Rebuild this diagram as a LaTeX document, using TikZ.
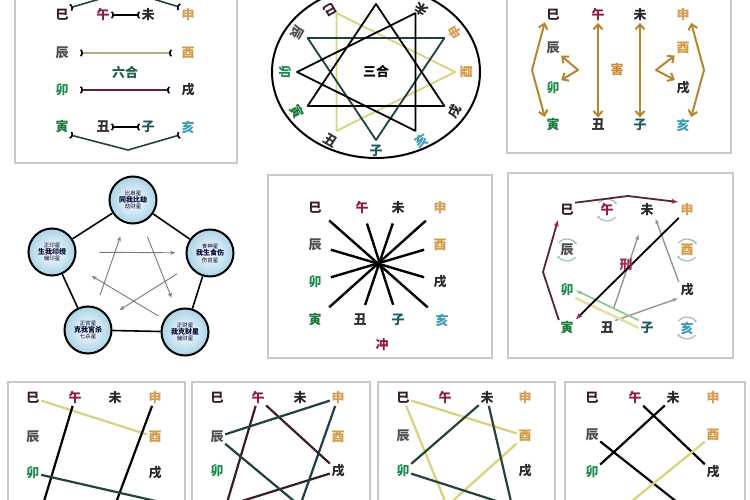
\documentclass[tikz,border=0pt]{standalone}
\usepackage{fontspec}
\usepackage{xcolor}
\usetikzlibrary{arrows.meta,calc}
\newfontfamily\cjk{Noto Sans CJK SC}

\definecolor{cSi}{HTML}{3A1C28}
\definecolor{cWu}{HTML}{8C1D3C}
\definecolor{cWei}{HTML}{2A2A2A}
\definecolor{cShen}{HTML}{D89E57}
\definecolor{cChen}{HTML}{4F4F4F}
\definecolor{cYou}{HTML}{D49A42}
\definecolor{cMao}{HTML}{1B8A4C}
\definecolor{cXu}{HTML}{2A2A2A}
\definecolor{cYin}{HTML}{1B7A3C}
\definecolor{cChou}{HTML}{2F2F2F}
\definecolor{cZi}{HTML}{1E5A5C}
\definecolor{cHai}{HTML}{3C9DB2}
\definecolor{boxgray}{HTML}{C9C9C9}
\definecolor{heBrown}{HTML}{B8852F}
\definecolor{xingRed}{HTML}{9E2A50}
\definecolor{paleYellow}{HTML}{D9D27A}
\definecolor{darkGreen}{HTML}{234535}
\definecolor{darkTeal}{HTML}{1E3F44}
\definecolor{tanLine}{HTML}{B9AA80}
\definecolor{wineLine}{HTML}{5A2434}
\definecolor{wuxingBlue}{HTML}{A9D3E8}
\definecolor{starGray}{HTML}{7A7A7A}
\definecolor{selfBlue}{HTML}{9CBBC7}
\definecolor{liuheGreen}{HTML}{1F5E4A}
\definecolor{haiOrange}{HTML}{D0883A}

\tikzset{
  br/.style={font=\cjk\bfseries\fontsize{13}{13}\selectfont, inner sep=1.5pt},
  tag/.style={font=\cjk\bfseries\fontsize{13}{13}\selectfont, inner sep=1pt},
  panel/.style={draw=boxgray, line width=1.4},
  hebar/.style={line width=1.6, {Parenthesis[reversed, length=4pt, width=9pt, color=black]}-{Parenthesis[reversed, length=4pt, width=9pt, color=black]}},
  haiarrow/.style={heBrown, line width=2, line join=round, {Straight Barb[length=5pt, width=9pt]}-{Straight Barb[length=5pt, width=9pt]}},
  sanhe/.style={line width=1.8, line join=round},
  spoke/.style={line width=2.4, shorten <=8pt, shorten >=8pt},
  xingarrow/.style={line width=1.8, line join=round, -{Latex[length=7pt, width=5pt, color=xingRed]}},
  grayarrow/.style={starGray!80, line width=1.4, -{Latex[length=6pt, width=4pt]}},
  selfcirc/.style={selfBlue, line width=1.2, -{Stealth[length=3pt, width=3pt]}},
  wuxing/.style={circle, draw, line width=2, minimum size=47pt, inner sep=0pt, inner color=white, outer color=wuxingBlue, align=center, text=black!80!blue, font=\cjk\fontsize{5.5}{6.5}\selectfont},
  kearrow/.style={starGray, line width=0.9, -{Stealth[length=5pt, width=4pt]}},
  pairline/.style={line width=2.2},
}

% the eight branches of the upper three rows: prefix, four columns, three rows
\newcommand{\branchtop}[8]{%
  \node[br, text=cSi]   (#1-si)   at (#2,#6) {巳};
  \node[br, text=cWu]   (#1-wu)   at (#3,#6) {午};
  \node[br, text=cWei]  (#1-wei)  at (#4,#6) {未};
  \node[br, text=cShen] (#1-shen) at (#5,#6) {申};
  \node[br, text=cChen] (#1-chen) at (#2,#7) {辰};
  \node[br, text=cYou]  (#1-you)  at (#5,#7) {酉};
  \node[br, text=cMao]  (#1-mao)  at (#2,#8) {卯};
  \node[br, text=cXu]   (#1-xu)   at (#5,#8) {戌};
}
% the four branches of the lowest row: prefix, four columns, row
\newcommand{\branchbase}[6]{%
  \node[br, text=cYin]  (#1-yin)  at (#2,#6) {寅};
  \node[br, text=cChou] (#1-chou) at (#3,#6) {丑};
  \node[br, text=cZi]   (#1-zi)   at (#4,#6) {子};
  \node[br, text=cHai]  (#1-hai)  at (#5,#6) {亥};
}

\begin{document}
\begin{tikzpicture}[x=1pt, y=-1pt]
	\fill[white] (0,0) rectangle (750,500);
	\useasboundingbox (0,0) rectangle (750,500);

	% Panel boxes
	\draw[panel] (15,-5) rectangle (237,163);
	\draw[panel] (507,-5) rectangle (731,153);
	\draw[panel] (268,175) rectangle (492,358);
	\draw[panel] (508,173) rectangle (733,358);
	\draw[panel] (8,382) rectangle (185,506);
	\draw[panel] (192,382) rectangle (370,506);
	\draw[panel] (378,382) rectangle (555,506);
	\draw[panel] (565,382) rectangle (745,506);

	% Liuhe: nodes
	\branchtop{p1}{62}{103}{148}{188}{15}{53}{90}
	\branchbase{p1}{62}{103}{148}{188}{127}
	\node[tag, text=liuheGreen] (liuhe) at (125,73) {六合};
	% Liuhe: edges
	\draw[hebar] (p1-wu) -- (p1-wei);
	\draw[hebar, tanLine, shorten <=10pt, shorten >=8pt] (p1-chen) -- (p1-you);
	\draw[hebar, wineLine, shorten <=10pt, shorten >=10pt] (p1-mao) -- (p1-xu);
	\draw[hebar] (p1-chou) -- (p1-zi);
	\draw[hebar, darkGreen] (p1-yin.south east) -- (128,150) -- (p1-hai.south west);
	\draw[hebar, darkGreen] (p1-si.north east) -- (127,-9) -- (p1-shen.north west);

	% Sanhe: ring of branches
	\draw[line width=2] (376,72) ellipse [x radius=104, y radius=86];
	\foreach \n/\a in {wu/90, wei/60, shen/30, you/0, xu/-30, hai/-60, zi/-90, chou/-120, yin/-150, mao/180, chen/150, si/120}
		\coordinate (t-\n) at ({376+79*cos(\a)},{72-68*sin(\a)});
	\foreach \n/\a/\r/\col/\lab in {wei/60/72/cWei/未, shen/30/79/cShen/申, you/0/79/cYou/酉, xu/-30/79/cXu/戌, hai/-60/79/cHai/亥, zi/-90/79/cZi/子, chou/-120/79/cChou/丑, yin/-150/79/cYin/寅, mao/180/79/cMao/卯, chen/150/79/cChen/辰, si/120/72/cSi/巳}
		\node[br, text=\col, rotate=\a+90] (p2-\n) at ({376+91*cos(\a)},{72-\r*sin(\a)}) {\lab};
	% Sanhe: triangles
	\draw[sanhe, paleYellow] (t-si) -- (t-you) -- (t-chou) -- cycle;
	\draw[sanhe, darkTeal] (t-shen) -- (t-zi) -- (t-chen) -- cycle;
	\draw[sanhe] (t-hai) -- (t-mao) -- (t-wei) -- cycle;
	\draw[sanhe] (t-yin) -- (t-wu) -- (t-xu) -- cycle;
	\node[tag, text=black] (sanhe) at (376,72) {三合};

	% Hai: nodes
	\branchtop{p3}{553}{598}{640}{683}{15}{48}{88}
	\branchbase{p3}{553}{598}{640}{683}{125}
	\node[tag, text=haiOrange] (hai) at (617,70) {害};
	% Hai: edges
	\draw[haiarrow] (p3-si.south west) -- (532,70) -- (p3-yin.north west);
	\draw[haiarrow] (p3-wu) -- (p3-chou);
	\draw[haiarrow] (p3-wei) -- (p3-zi);
	\draw[haiarrow] (p3-shen.south east) -- (704,70) -- (p3-hai.north east);
	\draw[haiarrow] (p3-chen.south east) -- (578,70) -- (p3-mao.north east);
	\draw[haiarrow] (p3-you.south west) -- (656,70) -- (p3-xu.north west);

	% Wuxing: circles
	\node[wuxing] (el-top) at (133,200) {比肩星\\{\bfseries\fontsize{7}{8}\selectfont 同我比劫}\\劫财星};
	\node[wuxing] (el-right) at (210,253) {食神星\\{\bfseries\fontsize{7}{8}\selectfont 我生食伤}\\伤官星};
	\node[wuxing] (el-br) at (185,332) {正财星\\{\bfseries\fontsize{7}{8}\selectfont 我克财星}\\偏财星};
	\node[wuxing] (el-bl) at (88,330) {正官星\\{\bfseries\fontsize{7}{8}\selectfont 克我官杀}\\七杀星};
	\node[wuxing] (el-left) at (52,252) {正印星\\{\bfseries\fontsize{7}{8}\selectfont 生我印绶}\\偏印星};
	% Wuxing: ring and star
	\draw[line width=1.6] (el-top) -- (el-right);
	\draw[line width=1.6] (el-right) -- (el-br);
	\draw[line width=1.6] (el-br) -- (el-bl);
	\draw[line width=1.6] (el-bl) -- (el-left);
	\draw[line width=1.6] (el-left) -- (el-top);
	\draw[kearrow] ($(el-left)!0.3!(el-right)$) -- ($(el-left)!0.78!(el-right)$);
	\draw[kearrow] ($(el-bl)!0.27!(el-top)$) -- ($(el-bl)!0.72!(el-top)$);
	\draw[kearrow] ($(el-top)!0.28!(el-br)$) -- ($(el-top)!0.74!(el-br)$);
	\draw[kearrow] ($(el-right)!0.27!(el-bl)$) -- ($(el-right)!0.74!(el-bl)$);
	\draw[kearrow] ($(el-br)!0.2!(el-left)$) -- ($(el-br)!0.7!(el-left)$);

	% Chong: nodes
	\branchtop{p5}{315}{362}{398}{440}{208}{245}{282}
	\branchbase{p5}{315}{360}{398}{442}{320}
	\node[tag, text=cWu] (chong) at (382,345) {冲};
	% Chong: spokes
	\foreach \a/\b in {si/hai, wu/zi, wei/chou, shen/yin, chen/xu, you/mao}
		\draw[spoke] (p5-\a) -- (p5-\b);
	\fill (378,265) circle [radius=3];

	% Xing: nodes
	\branchtop{p6}{567}{607}{647}{687}{210}{250}{290}
	\branchbase{p6}{567}{607}{647}{687}{328}
	% Xing: self punishment
	\foreach \n in {wu, chen, you, hai}
	{
		\draw[selfcirc] ([shift={(40:11)}]p6-\n.center) arc [start angle=40, end angle=150, radius=11];
		\draw[selfcirc] ([shift={(220:11)}]p6-\n.center) arc [start angle=220, end angle=330, radius=11];
	}
	% Xing: arrows
	\draw[grayarrow] (p6-chou.north east) -- (p6-xu.south west);
	\draw[grayarrow] (p6-xu.north west) -- (p6-wei.south east);
	\draw[grayarrow] ($(p6-chou)!0.17!(p6-wei)$) -- ($(p6-chou)!0.8!(p6-wei)$);
	\draw[paleYellow!70, line width=2.5] (p6-mao.south east) -- (p6-zi.west);
	\draw[green!40!gray!70, line width=1.6, -{Latex[length=6pt, width=4pt]}] (p6-zi.north west) -- (p6-mao.east);
	\draw[xingarrow, wineLine] (p6-si.north east) -- (628,196) -- (p6-shen.north west);
	\draw[xingarrow, wineLine, shorten >=2pt] (p6-yin.north west) -- (543,272) -- (p6-si.south west);
	\draw[xingarrow] (p6-shen.south west) -- (p6-yin.north east);
	\node[tag, text=xingRed] (xing) at (626,265) {刑};

	% Banhe: four halves
	\branchtop{b1}{33}{75}{115}{155}{398}{437}{473}
	\coordinate (b1-yin) at (42,508);
	\coordinate (b1-zi) at (114,508);
	\coordinate (b1-hai) at (160,502);
	\draw[pairline, paleYellow] (b1-si) -- (b1-you);
	\draw[pairline] (b1-wu) -- (b1-yin);
	\draw[pairline] (b1-shen) -- (b1-zi);
	\draw[pairline, darkGreen] (b1-mao) -- (b1-hai);

	% Sanhe: fire and water
	\branchtop{b2}{217}{258}{300}{338}{398}{437}{471}
	\coordinate (b2-yin) at (226,506);
	\coordinate (b2-zi) at (300,506);
	\draw[pairline, cSi] (b2-wu) -- (b2-xu);
	\draw[pairline, cSi] (b2-xu) -- (b2-yin);
	\draw[pairline, cSi] (b2-wu) -- (b2-yin);
	\draw[pairline, darkTeal] (b2-chen) -- (b2-shen);
	\draw[pairline, darkTeal] (b2-shen) -- (b2-zi);
	\draw[pairline, darkTeal] (b2-chen) -- (b2-zi);

	% Sanhe: metal and wood
	\branchtop{b3}{403}{445}{487}{525}{398}{436}{471}
	\coordinate (b3-chou) at (447,506);
	\coordinate (b3-hai) at (512,506);
	\draw[pairline, paleYellow] (b3-si) -- (b3-you);
	\draw[pairline, paleYellow] (b3-si) -- (b3-chou);
	\draw[pairline, paleYellow] (b3-you) -- (b3-chou);
	\draw[pairline, darkGreen] (b3-wei) -- (b3-mao);
	\draw[pairline, darkGreen] (b3-wei) -- (b3-hai);
	\draw[pairline, darkGreen] (b3-mao) -- (b3-hai);

	% Banhe: other halves
	\branchtop{b4}{592}{635}{673}{713}{398}{435}{472}
	\coordinate (b4-zi) at (682,506);
	\coordinate (b4-chou) at (626,506);
	\draw[pairline] (b4-wu) -- (b4-xu);
	\draw[pairline] (b4-wei) -- (b4-mao);
	\draw[pairline] (b4-chen) -- (b4-zi);
	\draw[pairline, paleYellow] (b4-you) -- (b4-chou);

\end{tikzpicture}
\end{document}
